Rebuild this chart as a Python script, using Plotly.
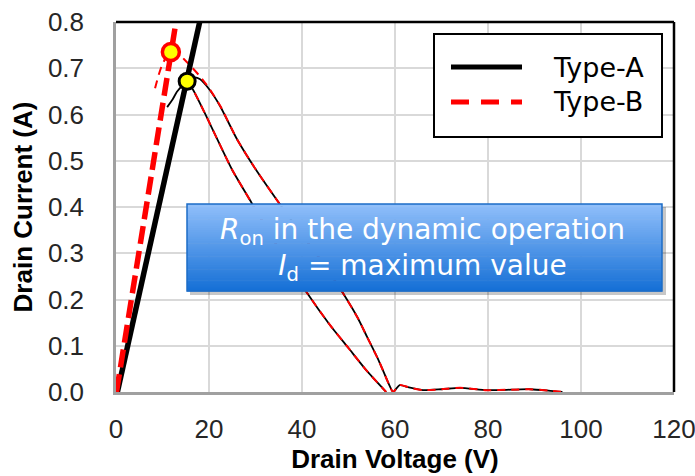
import plotly.graph_objects as go

# ---------------- data ----------------
x_tick_vals = [0, 20, 40, 60, 80, 100, 120]
y_tick_vals = [0.0, 0.1, 0.2, 0.3, 0.4, 0.5, 0.6, 0.7, 0.8]

# On-resistance lines (dynamic Ron)
a_ron_v = [0.3, 18.0]
a_ron_i = [0.0, 0.8]
b_ron_v = [0.1, 12.9]
b_ron_i = [0.0, 0.8]

# Type-A switching trajectory
a_rise_v = [11.0, 12.2, 13.1, 14.3, 15.3]
a_rise_i = [0.616, 0.633, 0.649, 0.663, 0.672]
a_outer_v = [15.3, 16.8, 18.1, 20.0, 22.4, 26.0, 30.0, 34.6, 40.0, 45.0, 48.8,
             52.0, 54.0, 56.5, 58.9, 59.6, 61.0, 63.0, 66.0, 70.0, 74.0, 79.8,
             85.0, 89.0, 93.0, 96.0]
a_outer_i = [0.672, 0.680, 0.676, 0.655, 0.618, 0.547, 0.482, 0.415, 0.340, 0.272, 0.214,
             0.160, 0.119, 0.068, 0.012, 0.000, 0.015, 0.010, 0.004, 0.006, 0.009, 0.004,
             0.005, 0.006, 0.003, 0.000]
a_inner_v = [15.3, 16.6, 19.0, 22.8, 25.0, 28.8, 35.0, 41.1, 46.0, 50.0, 54.0, 58.1]
a_inner_i = [0.672, 0.653, 0.605, 0.525, 0.480, 0.415, 0.310, 0.214, 0.145, 0.095, 0.045, 0.000]

# Type-B switching trajectory
b_rise_v = [8.4, 9.1, 9.9, 10.8, 11.8]
b_rise_i = [0.657, 0.683, 0.707, 0.724, 0.735]
b_outer_v = [11.8, 13.5, 14.8, 16.5, 18.1, 20.0, 22.4, 26.0, 30.0, 34.6, 40.0, 45.0, 48.8,
             52.0, 54.0, 56.5, 58.9, 59.6, 61.0, 63.0, 66.0, 70.0, 74.0, 79.8,
             85.0, 89.0, 93.0, 96.0]
b_outer_i = [0.735, 0.730, 0.718, 0.700, 0.682, 0.657, 0.619, 0.547, 0.482, 0.415, 0.340, 0.272, 0.214,
             0.160, 0.119, 0.068, 0.012, 0.000, 0.015, 0.010, 0.004, 0.006, 0.009, 0.004,
             0.005, 0.006, 0.003, 0.000]
b_inner_v = [15.3, 16.6, 19.0, 22.8, 25.0, 28.8, 35.0, 41.1, 46.0, 50.0, 54.0, 58.1]
b_inner_i = [0.672, 0.653, 0.605, 0.525, 0.480, 0.415, 0.310, 0.214, 0.145, 0.095, 0.045, 0.000]

# Maximum-current points
a_peak_v = [15.3]
a_peak_i = [0.672]
b_peak_v = [11.8]
b_peak_i = [0.735]

series_names = ["Type-A", "Type-B"]

# ---------------- figure ----------------
fig = go.Figure()

thin_a = dict(color="black", width=1.8)
thin_b = dict(color="#ff0000", width=2.0, dash="8px,6px")

for v, i in [(a_rise_v, a_rise_i), (a_outer_v, a_outer_i), (a_inner_v, a_inner_i)]:
    fig.add_trace(go.Scatter(x=v, y=i, mode="lines", line=dict(**thin_a, shape="spline", smoothing=0.6),
                             showlegend=False, hoverinfo="skip"))
for v, i in [(b_rise_v, b_rise_i), (b_outer_v, b_outer_i), (b_inner_v, b_inner_i)]:
    fig.add_trace(go.Scatter(x=v, y=i, mode="lines", line=dict(**thin_b, shape="spline", smoothing=0.6),
                             showlegend=False, hoverinfo="skip"))

fig.add_trace(go.Scatter(x=a_ron_v, y=a_ron_i, mode="lines", name=series_names[0],
                         line=dict(color="black", width=5.5), showlegend=False))
fig.add_trace(go.Scatter(x=b_ron_v, y=b_ron_i, mode="lines", name=series_names[1],
                         line=dict(color="#ff0000", width=5.5, dash="18px,7px"), showlegend=False))

fig.add_trace(go.Scatter(x=a_peak_v, y=a_peak_i, mode="markers", showlegend=False,
                         marker=dict(size=16, color="#ffff00", line=dict(color="black", width=3))))
fig.add_trace(go.Scatter(x=b_peak_v, y=b_peak_i, mode="markers", showlegend=False,
                         marker=dict(size=17, color="#ffff00", line=dict(color="#ff0000", width=3.5))))

# ---------------- layout helpers ----------------
W, H = 695, 476
L, R, T, B = 116, 21, 22, 84
PW, PH = W - L - R, H - T - B


def px(x):
    return (x - L) / PW


def py(y):
    return (H - B - y) / PH


shapes = []
# plot border (top & right in black)
shapes.append(dict(type="line", xref="paper", yref="paper", x0=0, x1=1, y0=1, y1=1,
                   line=dict(color="black", width=2.5), layer="above"))
shapes.append(dict(type="line", xref="paper", yref="paper", x0=1, x1=1, y0=0, y1=1,
                   line=dict(color="black", width=2.5), layer="above"))

# annotation box with vertical gradient
bx0, bx1, by0, by1 = 187, 662, 204, 291
shapes.append(dict(type="rect", xref="paper", yref="paper", x0=px(bx0 + 3), x1=px(bx1 + 4),
                   y0=py(by0 + 3), y1=py(by1 + 4), line=dict(width=0),
                   fillcolor="rgba(0,0,0,0.22)", layer="above"))
top_c = (143, 190, 250)
bot_c = (22, 112, 214)
n = 40
for k in range(n):
    t = k / (n - 1)
    c = tuple(round(top_c[j] + (bot_c[j] - top_c[j]) * t) for j in range(3))
    y0p = by0 + (by1 - by0) * k / n
    y1p = by0 + (by1 - by0) * (k + 1) / n
    shapes.append(dict(type="rect", xref="paper", yref="paper", x0=px(bx0), x1=px(bx1),
                       y0=py(y0p), y1=py(y1p + 0.6), line=dict(width=0),
                       fillcolor="rgb(%d,%d,%d)" % c, layer="above"))
shapes.append(dict(type="rect", xref="paper", yref="paper", x0=px(bx0), x1=px(bx1),
                   y0=py(by0), y1=py(by1), line=dict(color="#1c6cc6", width=1.5),
                   fillcolor="rgba(0,0,0,0)", layer="above"))

# legend box
lx0, lx1, ly0, ly1 = 434, 662, 34, 137
shapes.append(dict(type="rect", xref="paper", yref="paper", x0=px(lx0), x1=px(lx1),
                   y0=py(ly0), y1=py(ly1), line=dict(color="black", width=2),
                   fillcolor="white", layer="above"))
shapes.append(dict(type="line", xref="paper", yref="paper", x0=px(451), x1=px(522),
                   y0=py(67), y1=py(67), line=dict(color="black", width=5), layer="above"))
shapes.append(dict(type="line", xref="paper", yref="paper", x0=px(451), x1=px(522),
                   y0=py(102), y1=py(102), line=dict(color="#ff0000", width=5, dash="18px,12px"),
                   layer="above"))

annotations = [
    dict(xref="paper", yref="paper", x=px(551), y=py(67), xanchor="left", yanchor="middle",
         text=series_names[0], showarrow=False,
         font=dict(family="DejaVu Sans", size=27, color="black")),
    dict(xref="paper", yref="paper", x=px(551), y=py(101), xanchor="left", yanchor="middle",
         text=series_names[1], showarrow=False,
         font=dict(family="DejaVu Sans", size=27, color="black")),
    dict(xref="paper", yref="paper", x=px((bx0 + bx1) / 2 - 2), y=py((by0 + by1) / 2 + 2),
         xanchor="center", yanchor="middle", align="center", showarrow=False,
         text="<i>R</i><sub>on</sub> in the dynamic operation<br><i>I</i><sub>d</sub> = maximum value",
         font=dict(family="DejaVu Sans", size=28, color="white")),
]

fig.update_layout(
    width=W, height=H,
    margin=dict(l=L, r=R, t=T, b=B, pad=0, autoexpand=False),
    paper_bgcolor="white", plot_bgcolor="white",
    showlegend=False,
    shapes=shapes, annotations=annotations,
    font=dict(family="Liberation Sans, Arial", color="#262626"),
)
fig.update_xaxes(
    range=[0, 120], tickvals=x_tick_vals, ticktext=[str(v) for v in x_tick_vals],
    showgrid=True, gridcolor="#d9d9d9", gridwidth=2, automargin=False,
    showline=True, linecolor="#a0a0a0", linewidth=2.5, zeroline=False,
    ticks="", tickfont=dict(size=26, color="#262626"), ticklabelstandoff=12,
    ticklabeloverflow="allow",
    title=dict(text="<b>Drain Voltage (V)</b>", font=dict(size=26, color="black"), standoff=6),
)
fig.update_yaxes(
    range=[0, 0.8], tickvals=y_tick_vals, ticktext=["%.1f" % v for v in y_tick_vals],
    showgrid=True, gridcolor="#d9d9d9", gridwidth=2, automargin=False,
    showline=True, linecolor="#a0a0a0", linewidth=2.5, zeroline=False,
    ticks="", tickfont=dict(size=26, color="#262626"), ticklabelstandoff=24,
    ticklabeloverflow="allow",
    title=dict(text="<b>Drain Current (A)</b>", font=dict(size=26, color="black"), standoff=8),
)

fig.write_html("out.html")
